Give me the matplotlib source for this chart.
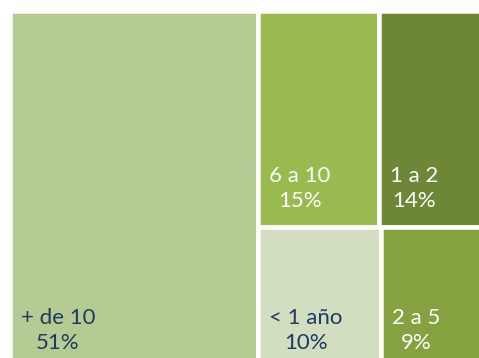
import matplotlib.pyplot as plt
from matplotlib.patches import Rectangle

# treemap data (share of total, %)
labels = ["+ de 10", "6 a 10", "1 a 2", "< 1 año", "2 a 5"]
values = [51, 15, 14, 10, 9]
colors = ["#b6ca94", "#9ab94f", "#6e8736", "#d1dec0", "#86a240"]
text_colors = ["#1f3a60", "white", "white", "#1f3a60", "white"]


def layout(vals, w=100.0, h=100.0):
    # first block takes a full-height column, rest split in two rows
    total = sum(vals)
    rects = []
    w0 = vals[0] / total * w
    rects.append((0, 0, w0, h))
    rest_w = w - w0
    top = vals[1:3]
    bot = vals[3:5]
    rest_total = sum(top) + sum(bot)
    top_h = sum(top) / rest_total * h
    x = w0
    for v in top:
        ww = v / sum(top) * rest_w
        rects.append((x, 0, ww, top_h))
        x += ww
    x = w0
    for v in bot:
        ww = v / sum(bot) * rest_w
        rects.append((x, top_h, ww, h - top_h))
        x += ww
    return rects


W, H = 479, 358
fig = plt.figure(figsize=(W / 100, H / 100), dpi=100)
ax = fig.add_axes([0, 0, 1, 1])

# pixel extent of the whole treemap (it runs off the right and bottom edges)
px0, px1 = 9.75, 491.75
py0, py1 = 10.75, 368.75
sx = (px1 - px0) / 100
sy = (py1 - py0) / 100
xmin = -px0 / sx
ymin = -py0 / sy
ax.set_xlim(xmin, xmin + W / sx)
ax.set_ylim(ymin + H / sy, ymin)
ax.axis("off")

gap_pt = 4.5 * 72 / 100
for (x, y, w, h), lab, val, c, tc in zip(layout(values), labels, values, colors, text_colors):
    ax.add_patch(Rectangle((x, y), w, h, facecolor=c, edgecolor="white", linewidth=gap_pt))
    ax.text(x + 11 / sx, y + h - 20 / sy, f"{lab}\n{val}%",
            ha="left", va="baseline", multialignment="center",
            fontsize=16, color=tc, family="Lato", linespacing=1.3)

fig.savefig("out.png", dpi=100)
